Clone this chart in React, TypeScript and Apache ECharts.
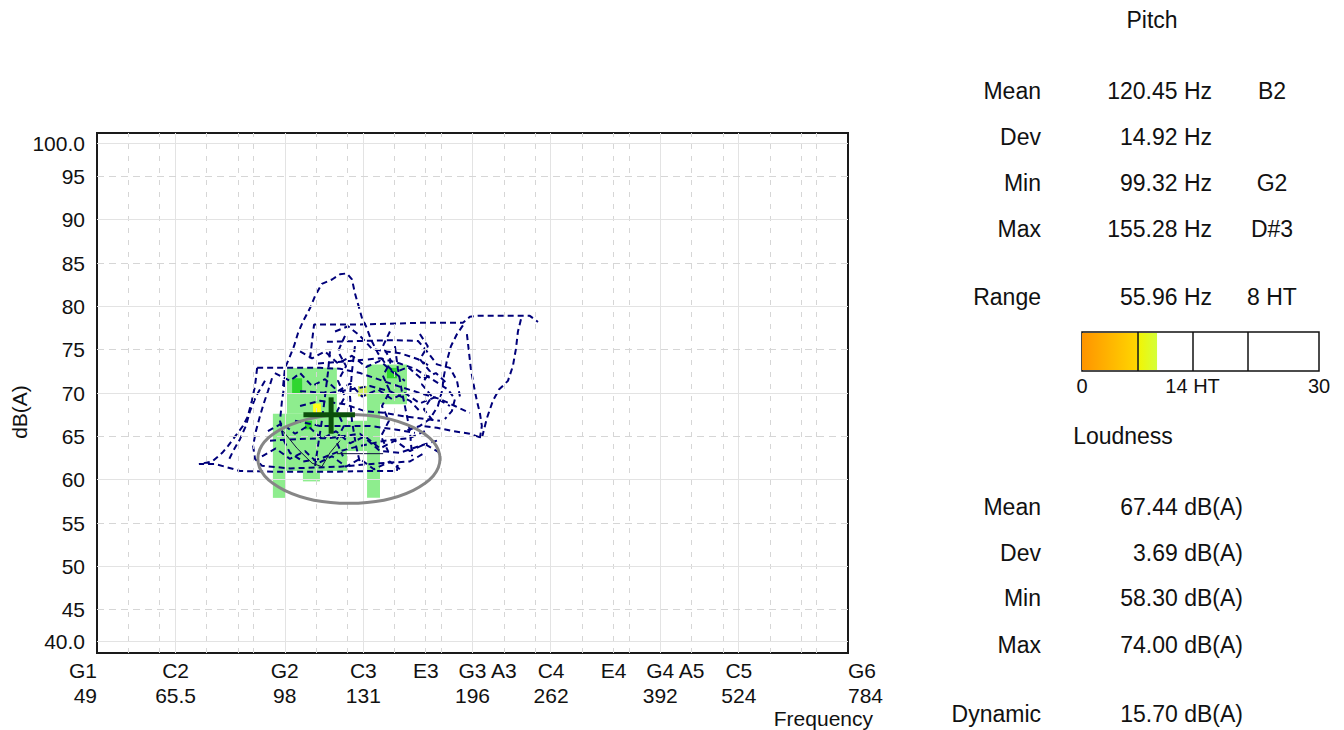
import React, { useEffect, useRef } from 'react';
import * as echarts from 'echarts';

const FONT = '"Liberation Sans", Arial, Helvetica, sans-serif';
const INK = '#111111';

// ---- x axis (frequency, log scale) ----
const noteNames = ['G1', 'C2', 'G2', 'C3', 'E3', 'G3', 'A3', 'C4', 'E4', 'G4', 'A5', 'C5', 'G6'];
const noteHz = [49, 65.5, 98, 131, 165, 196, 220, 262, 330, 392, 440, 524, 784];
const noteHzText = ['49', '65.5', '98', '131', '', '196', '', '262', '', '392', '', '524', '784'];
const freqMin = 49;
const freqMax = 784;

// grid lines (white keys): solid on C and G, dashed on the others
const solidGridHz = [65.4, 98, 130.8, 196, 261.6, 392, 523.3];
const dashedGridHz = [55, 61.7, 73.4, 82.4, 87.3, 110, 123.5, 146.8, 164.8, 174.6, 220, 246.9, 293.7, 329.6, 349.2, 440, 493.9, 587.3, 659.3, 698.5];

// ---- y axis (dB(A)) ----
const dbMin = 40;
const dbMax = 100;
const solidGridDb = [50, 60, 70, 80, 90];
const dashedGridDb = [45, 55, 65, 75, 85, 95];
const edgeGridDb = [98.8, 41.3];
const edgeGridLabels = ['100.0', '40.0'];

// ---- voice range profile cells: [HzLow, HzHigh, dBLow, dBHigh, level] ----
const vrpCells = [
  [93.8, 123.3, 61.0, 67.6, 1],
  [98.8, 105.6, 67.6, 72.9, 1],
  [105.6, 118.8, 67.6, 72.9, 1],
  [93.8, 98.1, 57.9, 61.0, 1],
  [104.8, 111.6, 59.8, 61.0, 1],
  [118.8, 132.8, 63.3, 66.8, 1],
  [132.8, 139.3, 57.9, 73.3, 1],
  [139.3, 153.9, 68.7, 73.3, 1],
  [100.7, 104.5, 70.0, 71.7, 2],
  [142.9, 148.3, 71.7, 72.9, 2],
  [105.6, 108.4, 65.8, 66.8, 2],
  [128.4, 132.8, 69.6, 70.8, 3],
  [108.8, 112.0, 67.7, 68.8, 4],
];
const cellColors = ['#ffffff', '#8eed8e', '#2fd62f', '#d2ef62', '#ffff1a'];

// ---- pitch / loudness trajectory strokes: [Hz, dB] ----
const trackPeak = [[97.4, 70.8], [98.1, 72.9], [99.6, 74.0], [101.4, 75.4], [102.9, 76.9], [104.9, 78.3], [107.6, 79.8], [109.6, 81.2], [112.4, 82.6], [116.7, 83.1], [120.2, 83.7], [123.3, 83.8], [125.6, 83.1], [127.0, 81.5], [128.4, 80.3], [130.4, 78.6], [132.3, 77.7], [134.7, 76.2], [138.2, 74.6], [142.4, 73.3], [147.2, 72.3], [152.7, 71.4]];
const trackTop = [[107.6, 74.0], [108.4, 76.0], [109.2, 77.9], [129.4, 77.9], [161.4, 78.1], [189.2, 78.1], [194.1, 78.8], [199.9, 78.9], [242.2, 78.9], [249.6, 78.2]];
const trackRight = [[234.4, 78.5], [231.8, 77.1], [230.1, 75.1], [227.5, 73.1], [223.4, 71.4], [216.1, 70.4], [211.3, 69.1], [206.7, 67.1], [202.9, 64.8], [194.1, 65.3], [182.3, 65.6], [171.9, 66.0], [162.6, 66.2]];
const trackDescentA = [[189.2, 77.8], [185.1, 76.8], [181.0, 75.4], [178.3, 73.7], [176.4, 72.0], [175.1, 70.2], [172.5, 68.5], [167.5, 67.0], [161.4, 66.2], [152.7, 65.6]];
const trackDescentB = [[192.0, 76.8], [193.4, 74.8], [194.8, 72.8], [197.0, 70.8], [199.2, 69.1], [201.4, 67.7], [202.9, 66.2], [201.4, 64.8]];
const trackBand76 = [[114.5, 75.9], [129.4, 76.0], [147.2, 76.1], [160.3, 76.0], [164.4, 75.1], [171.9, 73.3], [180.3, 72.9], [185.1, 71.4], [187.1, 69.6]];
const trackBand74 = [[110.8, 73.4], [124.7, 73.7], [139.3, 74.0], [149.9, 73.4], [158.5, 72.8], [168.7, 71.6], [179.0, 70.4], [183.7, 69.3], [181.6, 67.9], [177.0, 67.0]];
const trackBand73 = [[88.5, 72.9], [99.9, 72.9], [111.6, 72.9], [120.2, 72.8], [129.4, 72.3], [138.2, 71.6], [148.8, 70.8], [161.4, 70.0], [173.8, 69.3], [183.7, 68.5], [194.1, 67.7]];
const trackLeft = [[88.5, 72.9], [87.8, 70.8], [86.8, 69.1], [85.5, 67.3], [84.0, 66.2], [81.6, 65.0], [79.5, 63.9], [77.8, 63.1], [75.0, 62.1], [71.4, 61.8], [75.8, 61.8], [78.6, 61.5], [83.1, 61.0], [96.3, 60.9], [115.8, 60.9], [134.2, 61.0], [148.3, 61.0], [148.8, 61.9]];
const trackLeftInner = [[93.5, 71.7], [92.1, 70.2], [90.7, 68.8], [89.4, 67.3], [88.1, 65.6], [87.2, 63.9], [87.8, 62.4], [90.1, 61.6], [99.9, 61.3], [120.2, 61.5], [139.3, 61.9], [155.6, 62.1], [164.4, 63.1]];
const trackLeftEdge = [[91.1, 71.4], [88.1, 69.6], [86.2, 67.9], [84.9, 66.2], [83.1, 64.7], [81.0, 63.3], [79.5, 62.1]];
const trackLoopLow = [[98.1, 71.4], [97.0, 69.1], [96.3, 66.8], [97.7, 64.5], [99.9, 63.1], [104.9, 62.1], [111.6, 62.4], [120.2, 63.3], [129.4, 63.9], [141.9, 64.5], [155.6, 64.8], [164.4, 65.6]];
const trackBand70 = [[103.7, 70.2], [115.8, 70.0], [124.7, 70.4], [134.2, 70.8], [144.5, 70.2], [155.6, 69.1], [161.4, 67.9]];
const trackBand66 = [[101.8, 66.8], [111.6, 66.2], [122.4, 66.2], [134.2, 66.2], [147.2, 65.8], [158.5, 65.4]];
const trackBand77 = [[118.0, 77.1], [123.8, 77.7], [129.4, 76.6], [135.2, 75.1], [141.9, 74.8], [149.9, 74.6], [160.3, 73.9], [167.5, 73.1]];
const trackBand68 = [[103.7, 68.5], [111.6, 69.1], [122.4, 68.7], [131.8, 67.9], [141.9, 67.7], [152.7, 67.3], [164.4, 67.0], [173.8, 66.8]];
const trackBand64 = [[92.8, 64.5], [103.7, 64.7], [115.8, 64.8], [129.4, 65.3], [139.3, 63.3], [149.9, 63.1], [161.4, 63.9], [171.9, 64.5]];
const trackZig71 = [[94.5, 72.3], [99.9, 71.4], [103.7, 72.3], [108.4, 70.8], [113.7, 71.6], [119.3, 70.2], [124.7, 71.1], [130.4, 69.6], [138.2, 70.4], [145.6, 69.3], [152.7, 70.0], [161.4, 68.8], [170.6, 69.5], [180.3, 68.5]];
const trackZig65 = [[92.1, 65.6], [97.0, 66.5], [101.8, 65.3], [106.8, 66.2], [112.4, 64.7], [118.4, 65.6], [124.7, 64.2], [131.8, 65.0], [139.3, 63.6], [147.2, 64.5], [155.6, 63.3], [164.4, 64.1], [173.8, 63.1]];
const trackZig74 = [[103.7, 74.8], [108.4, 74.0], [113.7, 74.8], [119.3, 73.4], [125.6, 74.3], [132.3, 73.0], [139.3, 73.7], [146.6, 72.3], [154.4, 73.0], [162.6, 71.6], [171.2, 72.3], [179.0, 71.0]];
const trackZig62 = [[90.1, 62.7], [94.8, 63.6], [99.9, 62.4], [105.6, 63.3], [110.8, 61.9], [116.7, 62.7], [122.9, 61.5], [129.4, 62.4], [136.2, 61.2], [144.5, 62.1], [149.9, 61.2]];
const trackDropA = [[115.8, 74.8], [115.0, 72.5], [113.7, 69.6], [112.4, 66.8], [110.8, 63.9], [109.6, 61.6]];
const trackDropB = [[127.0, 75.4], [125.6, 72.5], [124.7, 69.6], [125.6, 66.8], [127.5, 63.9], [129.4, 61.9]];
const trackDropC = [[147.2, 75.4], [148.8, 72.8], [151.0, 70.2], [153.3, 67.9], [155.6, 65.6], [156.8, 62.7]];
const trackDropD = [[122.4, 76.6], [119.3, 74.8], [122.9, 73.1], [119.3, 71.4], [122.4, 69.6], [118.9, 67.9], [121.9, 66.2], [118.4, 64.5], [121.5, 62.7]];
const trackDropE = [[144.5, 77.1], [140.8, 75.4], [145.1, 73.7], [140.8, 72.0], [144.5, 70.2], [140.3, 68.5], [144.0, 66.8], [139.8, 65.0], [143.5, 63.3]];
const trackDropF = [[161.4, 76.8], [166.2, 75.4], [161.4, 73.9], [167.5, 72.5], [162.6, 71.0], [168.7, 69.6], [163.8, 68.1], [169.4, 66.8]];
const trackStrokes = [trackPeak, trackTop, trackRight, trackDescentA, trackDescentB, trackBand76, trackBand74, trackBand73, trackLeft, trackLeftInner, trackLeftEdge, trackLoopLow, trackBand70, trackBand66, trackBand77, trackBand68, trackBand64, trackZig71, trackZig65, trackZig74, trackZig62, trackDropA, trackDropB, trackDropC, trackDropD, trackDropE, trackDropF];
const thinTrackA = [[97.4, 65.6], [102.6, 63.6], [108.4, 61.9], [112.4, 61.5], [115.8, 63.1], [120.2, 64.5]];
const thinTrackB = [[118.8, 63.0], [140.9, 63.0]];

// ---- mean cross and deviation ellipse ----
const crossH = [[105.0, 67.5], [127.0, 67.5]];
const crossV = [[116.3, 65.3], [116.3, 69.5]];
// [centreHz, centreDb, half width in octaves, half height in dB]
const devEllipse = [[124.2, 62.4, 0.485, 5.13]];

// ---- side panel ----
const pitchRows = [
  ['Mean', '120.45 Hz', 'B2'],
  ['Dev', '14.92 Hz', ''],
  ['Min', '99.32 Hz', 'G2'],
  ['Max', '155.28 Hz', 'D#3'],
  ['Range', '55.96 Hz', '8 HT'],
];
const loudRows = [
  ['Mean', '67.44 dB(A)'],
  ['Dev', '3.69 dB(A)'],
  ['Min', '58.30 dB(A)'],
  ['Max', '74.00 dB(A)'],
  ['Dynamic', '15.70 dB(A)'],
];
const rangeMax = 30;
const rangeFill = [7, 2.5];
const rangeDividers = [7, 14, 21];
const rangeTicks = [0, 14, 30];
const rangeTickText = ['0', '14 HT', '30'];

const pitchRowY = [91, 137, 183, 229, 297];
const loudRowY = [507, 553, 598, 645, 714];

function txt(text: string, x: number, y: number, align: string, size = 23, rotation = 0) {
  return {
    type: 'text',
    x,
    y,
    rotation,
    silent: true,
    style: { text, fill: INK, font: `${size}px ${FONT}`, align, verticalAlign: 'middle' },
  };
}

function nearestNote(v: number) {
  let best = 0;
  let bd = Infinity;
  noteHz.forEach((f, i) => {
    const d = Math.abs(Math.log(v / f));
    if (d < bd) {
      bd = d;
      best = i;
    }
  });
  return best;
}

export default function App() {
  const ref = useRef<HTMLDivElement>(null);

  useEffect(() => {
    if (!ref.current) return;
    const chart = echarts.init(ref.current, null, { renderer: 'svg' });

    const solidLine = { type: 'solid', color: '#e3e3e3', width: 1 };
    const gridMarks: any[] = [
      ...solidGridHz.map((v) => ({ xAxis: v, lineStyle: solidLine })),
      ...dashedGridHz.map((v) => ({ xAxis: v, lineStyle: { type: [5, 7], color: '#d6d6d6', width: 1 } })),
      ...solidGridDb.map((v) => ({ yAxis: v, lineStyle: solidLine })),
      ...dashedGridDb.map((v) => ({ yAxis: v, lineStyle: { type: [7, 5], color: '#d6d6d6', width: 1 } })),
      ...edgeGridDb.map((v, i) => ({
        yAxis: v,
        lineStyle: solidLine,
        label: {
          show: true,
          position: 'start',
          formatter: edgeGridLabels[i],
          distance: 12,
          color: INK,
          fontSize: 21,
          fontFamily: FONT,
        },
      })),
    ];

    const trackSeries = trackStrokes.map((s) => ({
      type: 'line',
      xAxisIndex: 0,
      yAxisIndex: 0,
      data: s,
      showSymbol: false,
      symbol: 'none',
      silent: true,
      z: 3,
      lineStyle: { color: '#00007a', width: 2, type: [6, 4] },
    }));

    const thinSeries = [thinTrackA, thinTrackB].map((s) => ({
      type: 'line',
      data: s,
      showSymbol: false,
      symbol: 'none',
      silent: true,
      z: 3,
      lineStyle: { color: '#101040', width: 1, type: 'solid' },
    }));

    const crossSeries = [crossH, crossV].map((s) => ({
      type: 'line',
      data: s,
      showSymbol: false,
      symbol: 'none',
      silent: true,
      z: 6,
      lineStyle: { color: '#0b4f0b', width: 5, type: 'solid', cap: 'butt' },
    }));

    const rangeGrad1 = new echarts.graphic.LinearGradient(0, 0, 1, 0, [
      { offset: 0, color: '#ff9400' },
      { offset: 1, color: '#ffd600' },
    ]);
    const rangeGrad2 = new echarts.graphic.LinearGradient(0, 0, 1, 0, [
      { offset: 0, color: '#f4f400' },
      { offset: 1, color: '#d4ff3a' },
    ]);

    const graphics: any[] = [
      txt('dB(A)', 19, 412, 'center', 21, Math.PI / 2),
      txt('Frequency', 873, 718, 'right', 21),
      txt('Pitch', 1152, 20, 'center'),
      txt('Loudness', 1123, 436, 'center'),
    ];
    pitchRows.forEach((r, i) => {
      graphics.push(txt(r[0], 1041, pitchRowY[i], 'right'));
      graphics.push(txt(r[1], 1212, pitchRowY[i], 'right'));
      if (r[2]) graphics.push(txt(r[2], 1272, pitchRowY[i], 'center'));
    });
    loudRows.forEach((r, i) => {
      graphics.push(txt(r[0], 1041, loudRowY[i], 'right'));
      graphics.push(txt(r[1], 1243, loudRowY[i], 'right'));
    });

    const option: any = {
      animation: false,
      backgroundColor: '#ffffff',
      textStyle: { fontFamily: FONT },
      grid: [
        { left: 97, top: 133, width: 751, height: 520, show: true, borderColor: '#1a1a1a', borderWidth: 2, backgroundColor: 'rgba(0,0,0,0)' },
        { left: 1082, top: 332, width: 237, height: 39, show: true, borderColor: INK, borderWidth: 1.5, backgroundColor: '#ffffff' },
      ],
      xAxis: [
        {
          type: 'log',
          logBase: 2,
          gridIndex: 0,
          min: freqMin,
          max: freqMax,
          axisLine: { show: false },
          axisTick: { show: false },
          splitLine: { show: false },
          axisLabel: {
            customValues: noteHz.map((v, i) => (i === 0 ? v * 1.0001 : i === noteHz.length - 1 ? v * 0.9999 : v)),
            formatter: (v: number) => {
              const i = nearestNote(v);
              return noteNames[i] + '\n' + (noteHzText[i] || ' ');
            },
            alignMinLabel: 'right',
            alignMaxLabel: 'left',
            margin: 5,
            fontSize: 21,
            lineHeight: 25,
            color: INK,
            fontFamily: FONT,
            hideOverlap: false,
          },
        },
        {
          type: 'value',
          gridIndex: 1,
          min: 0,
          max: rangeMax,
          axisLine: { show: false },
          axisTick: { show: false },
          splitLine: { show: false },
          axisLabel: {
            customValues: rangeTicks,
            formatter: (v: number) => rangeTickText[rangeTicks.indexOf(v)] ?? String(v),
            margin: 5,
            fontSize: 20,
            color: INK,
            fontFamily: FONT,
          },
        },
      ],
      yAxis: [
        {
          type: 'value',
          gridIndex: 0,
          min: dbMin,
          max: dbMax,
          interval: 5,
          axisLine: { show: false },
          axisTick: { show: false },
          splitLine: { show: false },
          axisLabel: {
            formatter: (v: number) => (v === dbMin || v === dbMax ? '' : String(v)),
            margin: 12,
            fontSize: 21,
            color: INK,
            fontFamily: FONT,
          },
        },
        {
          type: 'category',
          gridIndex: 1,
          data: ['range'],
          show: false,
        },
      ],
      series: [
        {
          type: 'line',
          xAxisIndex: 0,
          yAxisIndex: 0,
          data: [],
          z: 0,
          silent: true,
          markLine: {
            silent: true,
            symbol: ['none', 'none'],
            animation: false,
            label: { show: false },
            emphasis: { disabled: true },
            data: gridMarks,
          },
        },
        {
          type: 'custom',
          xAxisIndex: 0,
          yAxisIndex: 0,
          z: 2,
          silent: true,
          encode: { x: [0, 1], y: [2, 3] },
          data: vrpCells,
          renderItem: (_p: any, api: any) => {
            const a = api.coord([api.value(0), api.value(3)]);
            const b = api.coord([api.value(1), api.value(2)]);
            return {
              type: 'rect',
              shape: { x: a[0], y: a[1], width: b[0] - a[0], height: b[1] - a[1] },
              style: { fill: cellColors[api.value(4)] },
            };
          },
        },
        ...trackSeries,
        ...thinSeries,
        {
          type: 'custom',
          xAxisIndex: 0,
          yAxisIndex: 0,
          z: 5,
          silent: true,
          encode: { x: 0, y: 1 },
          data: devEllipse,
          renderItem: (_p: any, api: any) => {
            const fc = api.value(0);
            const dc = api.value(1);
            const c = api.coord([fc, dc]);
            const r = api.coord([fc * Math.pow(2, api.value(2)), dc + api.value(3)]);
            return {
              type: 'ellipse',
              shape: { cx: c[0], cy: c[1], rx: r[0] - c[0], ry: c[1] - r[1] },
              style: { fill: 'none', stroke: '#868686', lineWidth: 3 },
            };
          },
        },
        ...crossSeries,
        {
          type: 'bar',
          xAxisIndex: 1,
          yAxisIndex: 1,
          stack: 'range',
          barWidth: 37,
          silent: true,
          data: [rangeFill[0]],
          itemStyle: { color: rangeGrad1 },
        },
        {
          type: 'bar',
          xAxisIndex: 1,
          yAxisIndex: 1,
          stack: 'range',
          barWidth: 37,
          silent: true,
          data: [rangeFill[1]],
          itemStyle: { color: rangeGrad2 },
          markLine: {
            silent: true,
            symbol: ['none', 'none'],
            label: { show: false },
            lineStyle: { color: INK, width: 1.5, type: 'solid' },
            data: rangeDividers.map((v) => ({ xAxis: v })),
          },
        },
      ],
      graphic: graphics,
    };

    chart.setOption(option);
    return () => chart.dispose();
  }, []);

  return (
    <div
      ref={ref}
      style={{ position: 'fixed', left: 0, top: 0, width: 1344, height: 730, background: '#ffffff' }}
    />
  );
}
